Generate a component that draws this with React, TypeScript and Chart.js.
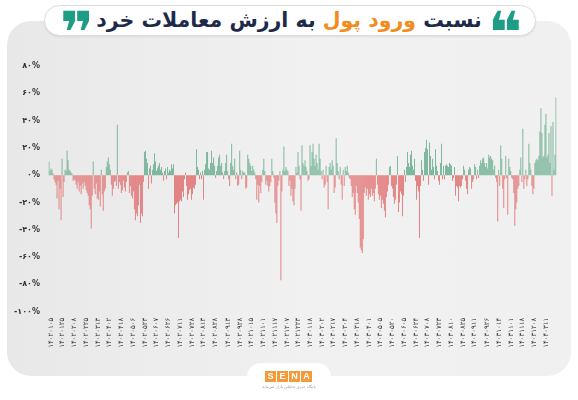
import React, { useEffect, useRef } from "react";
import { Chart, registerables } from "chart.js";

Chart.register(...registerables);

// Ratio of money inflow to retail trading value (%), one bar per trading day
const flows1402a = [
  10, 3, 5, 4, 1, -3, -5, -7, -17, -4, -25, -10, -33, 12, -16, -5, 4, 3, 18, 11, 4, 3, 2, 1,
  -4, -3, -4, -7, -10, -5, -12, -8, -14, -6, -10, -5, -8, -11, -13, -15, -22, -25, -39, -15,
  10, -10, -14, -6, -17, -18, -12, -23, 4, -14, -26, -12, -10, 6, 10, 13, 8, 4, -7, -15, -10, -5, -4, -8, 37,
  -10, -5, -7, -13, -11, -4, -9, -12, -5, 2, 3, -13, -8, -15, -17, -12, -25, -33, -28, -30, -22, -7, -35, -28, -30, -5,
  17, 18, 12, 9, -10, 5, 7, -6, 4, 8, 16, 10, 3, 5, 7, 9, 4, 6, 2, -4, 3, 5, -3, 6, 2,
];
const flows1402b = [
  4, 3, 8, 5, 8, -28, -22, -21, -20, -46, -19, -18, -19, -12, -16, -3, 2, -8, -18, -14, -11, -10, -18,
  -14, -9, -10, -7, 19, 6, 4, -3, 2, -3, 3, -18, 4, 8, 17, 17, 5, 4, 9, 18, 9, 13, 7, -2, 3,
  7, 13, 15, 7, 9, 2, -3, 3, 9, 15, 3, -3, -8, 9, 23, 7, 4, 12, -3, 2, -8,
  -7, 18, 4, -3, 3, 2, 2, -10, -9, 15, 12, 9, 7, 3, 7, 4, 2, -3, -18, -7,
  -20, -8, -13, -5, 4, 12, 3, -7, -4, -8, -12, -8, -5, 12, 3, -2, -20, -28, -35, -8,
  -4, 3, -77, -12, 4, 21, 3, 6, 4, 3, -8, -4, -15, -10, -19, -22, -10, 6, 2, 17,
  7, -3, -26, 22, 9, 7, 11, 6, 3, -4, -3, 22, 7, 17, 23, 12, 7, 15, 9, 4,
];
const flows1403a = [
  23, 12, 3, -3, 4, -9, -7, 7, -5, -25, 6, 9, 4, 11, 7, -13, -9, 27, 9, 3,
  -3, 6, -7, -18, 4, -8, 6, 3, 7, 2, -2, -3, -8, -16, -13, -25, -29, -8, -13, -20,
  -32, -53, -55, -57, -47, -13, -9, -15, -10, -18, -14, -16, -10, -15, -13, -19, -10, 12, -7, -14,
  -18, -15, -24, -18, -21, -26, -31, -16, -12, -7, 6, 7, -8, -10, -16, -21, -18, -7, 14, -27,
  -20, -12, -14, -30, -15, 4, -5, 6, 17, 9, 6, 15, 18, 7, 4, 12, -4, -18, -8, -12,
  -46, -8, 11, 4, -4, 17, 20, 26, 19, -7, 24, 14, 4, 12, 6, -3, 19, 7, 3, -4,
  -7, 9, 23, -3, 7, -3, 7, 8, 7, 6, 9, 8, 7, -4, -2, 6, -15, -8, -9, -19,
];
const flows1403b = [
  -8, -9, -8, -3, 7, 4, -4, -10, -14, 4, 6, 5, -10, -5, -3, 8, 6, -3, 4, -2,
  7, 11, 9, 12, 13, 9, 6, 9, 5, 15, 13, 14, 12, 11, 4, 7, -2, -5, -34, 4,
  -8, 22, 12, -10, -24, -3, 14, -2, -29, 12, 6, 3, -2, -3, -13, -37, -25, -20, -10, -8,
  4, 13, -5, 34, -10, -3, 4, -8, -3, 23, 9, 4, -8, -14, -10, 9, 11, 12, 11, 14,
  32, 49, 31, 13, 14, 37, 45, 13, 15, 31, 9, 36, -15, 39, 4, 15, 57,
];
const flowRatio = [...flows1402a, ...flows1402b, ...flows1403a, ...flows1403b];

const dateLabels = [
  "۱۴۰۲۰۱۰۵", "۱۴۰۲۰۱۲۵", "۱۴۰۲۰۲۰۸", "۱۴۰۲۰۲۲۵", "۱۴۰۲۰۳۱۳", "۱۴۰۲۰۴۰۲", "۱۴۰۲۰۴۱۸",
  "۱۴۰۲۰۵۰۶", "۱۴۰۲۰۵۲۳", "۱۴۰۲۰۶۰۷", "۱۴۰۲۰۶۲۶", "۱۴۰۲۰۷۱۱", "۱۴۰۲۰۷۲۸", "۱۴۰۲۰۸۱۳",
  "۱۴۰۲۰۸۲۸", "۱۴۰۲۰۹۱۳", "۱۴۰۲۰۹۲۸", "۱۴۰۲۱۰۱۵", "۱۴۰۲۱۱۰۱", "۱۴۰۲۱۱۱۷", "۱۴۰۲۱۲۰۷",
  "۱۴۰۲۱۲۲۳", "۱۴۰۳۰۱۱۸", "۱۴۰۳۰۲۰۲", "۱۴۰۳۰۲۱۷", "۱۴۰۳۰۳۰۴", "۱۴۰۳۰۳۱۸", "۱۴۰۳۰۴۰۱",
  "۱۴۰۳۰۵۰۵", "۱۴۰۳۰۵۲۰", "۱۴۰۳۰۶۰۵", "۱۴۰۳۰۶۲۴", "۱۴۰۳۰۷۰۸", "۱۴۰۳۰۷۲۳", "۱۴۰۳۰۸۱۰",
  "۱۴۰۳۰۸۲۵", "۱۴۰۳۰۹۱۱", "۱۴۰۳۰۹۲۶", "۱۴۰۳۱۰۱۴", "۱۴۰۳۱۱۰۱", "۱۴۰۳۱۱۱۸", "۱۴۰۳۱۲۰۸",
  "۱۴۰۴۰۳۱۱",
];

const yTickValues = [80, 60, 40, 20, 0, -20, -40, -60, -80, -100];
const yTickLabels = ["۸۰%", "۶۰%", "۴۰%", "۲۰%", "۰%", "-۲۰%", "-۴۰%", "-۶۰%", "-۸۰%", "-۱۰۰%"];

const LABEL_FIRST = 1.7;
const LABEL_STEP = 11.74;

const GREEN = "#63ab88";
const RED = "#e06a6a";
const FONT = '"DejaVu Sans", sans-serif';

export default function App() {
  const canvasRef = useRef<HTMLCanvasElement | null>(null);

  useEffect(() => {
    const canvas = canvasRef.current;
    if (!canvas) return;
    const tickMap = new Map<number, string>();
    dateLabels.forEach((d, k) => tickMap.set(Math.round(LABEL_FIRST + k * LABEL_STEP), d));
    const labels = flowRatio.map((_, i) => tickMap.get(i) ?? "");

    const chart = new Chart(canvas, {
      type: "bar",
      data: {
        labels,
        datasets: [
          {
            data: flowRatio,
            backgroundColor: (ctx: any) => ((ctx.raw as number) >= 0 ? GREEN : RED),
            borderWidth: 0,
            barPercentage: 0.8,
            categoryPercentage: 1,
          },
        ],
      },
      options: {
        animation: false,
        responsive: false,
        layout: { padding: { top: 66, right: 21.5, bottom: 44.3, left: 0 } },
        plugins: { legend: { display: false }, tooltip: { enabled: false } },
        scales: {
          x: {
            grid: { display: false, drawTicks: false },
            border: { display: false },
            ticks: {
              autoSkip: false,
              minRotation: 90,
              maxRotation: 90,
              padding: 6,
              color: "#333",
              font: { family: FONT, size: 7 },
            },
            afterFit: (s: any) => {
              s.height = 44;
            },
          },
          y: {
            min: -100,
            max: 80,
            grid: { display: false, drawTicks: false },
            border: { display: false },
            ticks: {
              stepSize: 20,
              padding: 8.5,
              color: "#333",
              font: { family: FONT, size: 8, weight: "bold" },
              callback: (v: any) => {
                const i = yTickValues.indexOf(Number(v));
                return i >= 0 ? yTickLabels[i] : "";
              },
            },
            afterFit: (s: any) => {
              s.width = 48.5;
            },
          },
        },
      },
    });
    return () => chart.destroy();
  }, []);

  const quoteStyle: React.CSSProperties = {
    position: "absolute",
    top: 4,
    color: "#1d9c86",
    fontSize: 58,
    fontWeight: "bold",
    lineHeight: "58px",
  };

  return (
    <div
      style={{
        position: "fixed",
        left: 0,
        top: 0,
        width: 578,
        height: 400,
        background: "#fff",
        overflow: "hidden",
        fontFamily: FONT,
      }}
    >
      <div
        style={{
          position: "absolute",
          left: 7,
          top: 21,
          width: 564,
          height: 355,
          borderRadius: 24,
          background: "linear-gradient(90deg, #e8e8e8 0%, #f1f1f1 55%, #f0f0f0 100%)",
        }}
      />
      <div
        style={{
          position: "absolute",
          left: 247,
          top: 363,
          width: 84,
          height: 40,
          borderRadius: "14px 14px 0 0",
          background: "#fff",
        }}
      />
      <div
        style={{
          position: "absolute",
          left: 44,
          top: 5,
          width: 492,
          height: 31,
          boxSizing: "border-box",
          borderRadius: 16,
          background: "#fff",
          border: "1px solid #dcdcdc",
          boxShadow: "0 1px 2px rgba(0,0,0,0.08)",
        }}
      />
      <div
        style={{
          position: "absolute",
          left: 92,
          top: 5,
          width: 394,
          height: 31,
          display: "flex",
          alignItems: "center",
          justifyContent: "center",
          direction: "rtl",
        }}
      >
        <span style={{ fontSize: 20.5, fontWeight: "bold", color: "#1e2a4a", whiteSpace: "nowrap", lineHeight: "31px" }}>
          نسبت <span style={{ color: "#f28c1c" }}>ورود پول</span> به ارزش معاملات خرد
        </span>
      </div>
      <span style={{ ...quoteStyle, left: 60 }}>❞</span>
      <span style={{ ...quoteStyle, left: 488 }}>❝</span>

      <canvas
        ref={canvasRef}
        width={578}
        height={400}
        style={{ position: "absolute", left: 0, top: 0, width: 578, height: 400 }}
      />

      <div style={{ position: "absolute", left: 265, top: 371, display: "flex", gap: 1 }}>
        {["S", "E", "N", "A"].map((c) => (
          <div
            key={c}
            style={{
              width: 11,
              height: 11,
              background: "#f39b3a",
              color: "#fff",
              fontSize: 9,
              fontWeight: "bold",
              textAlign: "center",
              lineHeight: "11px",
              fontFamily: '"Liberation Sans", sans-serif',
            }}
          >
            {c}
          </div>
        ))}
      </div>
      <div
        style={{
          position: "absolute",
          left: 249,
          top: 384,
          width: 80,
          textAlign: "center",
          fontSize: 4,
          color: "#999",
          direction: "rtl",
        }}
      >
        پایگاه خبری تحلیلی بازار سرمایه
      </div>
    </div>
  );
}
